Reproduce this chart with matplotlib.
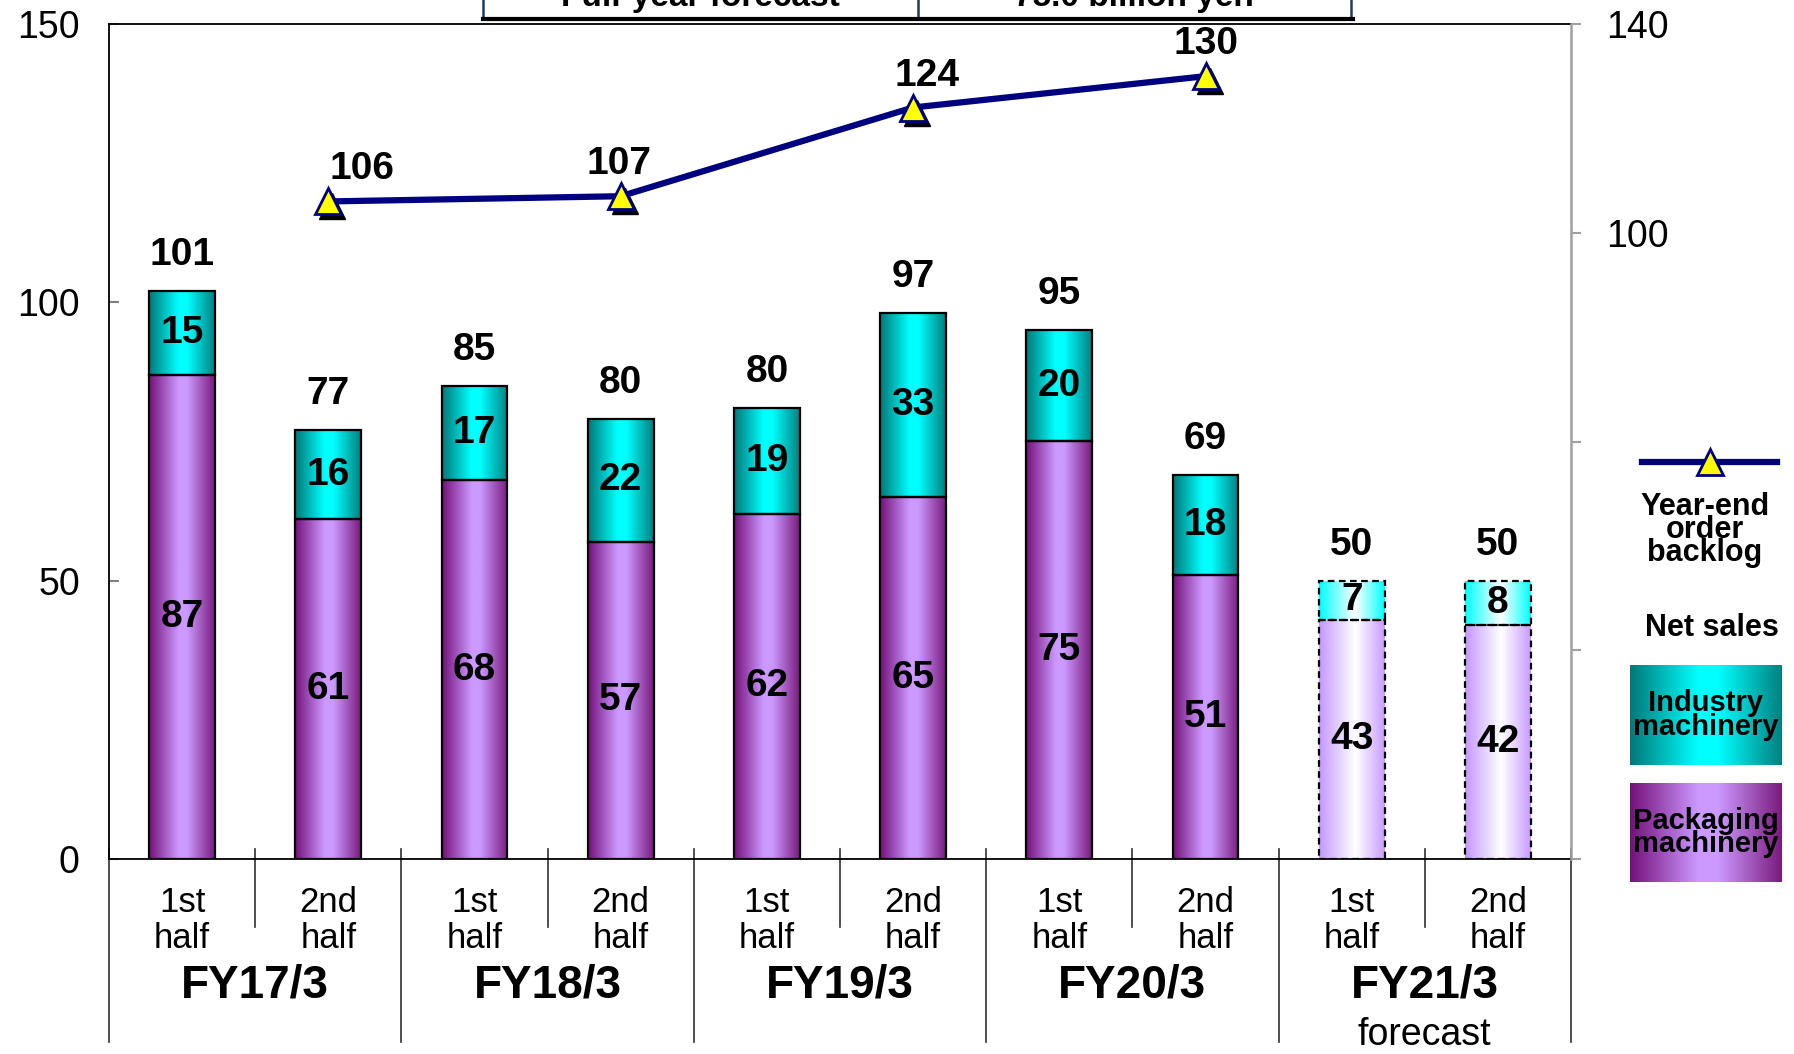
import matplotlib
matplotlib.use('Agg')
import matplotlib.pyplot as plt
import numpy as np
from matplotlib.colors import LinearSegmentedColormap
from matplotlib.lines import Line2D
from matplotlib.patches import Rectangle
from matplotlib.transforms import offset_copy

# data
fiscal_years = ['FY17/3', 'FY18/3', 'FY19/3', 'FY20/3', 'FY21/3']
halves = ['1st\nhalf', '2nd\nhalf']
forecast_fy = 'FY21/3'
packaging = [87, 61, 68, 57, 62, 65, 75, 51, 43, 42]
industry = [15, 16, 17, 22, 19, 33, 20, 18, 7, 8]
totals = [101, 77, 85, 80, 80, 97, 95, 69, 50, 50]
backlog_fy = ['FY17/3', 'FY18/3', 'FY19/3', 'FY20/3']
backlog = [106, 107, 124, 130]

NARROW = ['Liberation Sans Narrow', 'Liberation Sans', 'DejaVu Sans']
plt.rcParams['font.family'] = ['Liberation Sans', 'DejaVu Sans']

W, H = 1794, 1054
fig = plt.figure(figsize=(W / 100, H / 100), dpi=100)
ax = fig.add_axes([109 / W, 1 - 859 / H, (1571 - 109) / W, (859 - 24) / H])

pack_cm = LinearSegmentedColormap.from_list('pk', [(0, '#74107a'), (0.45, '#cc99ff'), (0.58, '#cc99ff'), (1, '#7a1a7e')])
ind_cm = LinearSegmentedColormap.from_list('in', [(0, '#007878'), (0.45, '#00ffff'), (0.58, '#00ffff'), (1, '#008080')])
pack_fc = LinearSegmentedColormap.from_list('pkf', [(0, '#c497ff'), (0.55, '#ffffff'), (1, '#c99cff')])
ind_fc = LinearSegmentedColormap.from_list('inf', [(0, '#00ffff'), (0.55, '#ffffff'), (1, '#00ffff')])


def fill_gradient(axis, patch, cmap):
    x0, y0 = patch.get_x(), patch.get_y()
    w, h = patch.get_width(), patch.get_height()
    grad = np.linspace(0, 1, 256).reshape(1, -1)
    im = axis.imshow(grad, cmap=cmap, extent=(x0, x0 + w, y0, y0 + h), aspect='auto',
                     origin='lower', zorder=2, interpolation='bilinear')
    im.set_clip_path(patch)


bar_fy = [fy for fy in fiscal_years for _ in halves]
x = np.arange(len(bar_fy))
is_fc = [fy == forecast_fy for fy in bar_fy]

pk_bars = ax.bar(x, packaging, width=0.45, facecolor='none', edgecolor='black',
                 linewidth=1.6, zorder=3)
in_bars = ax.bar(x, industry, width=0.45, bottom=packaging, facecolor='none',
                 edgecolor='black', linewidth=1.6, zorder=3)
for i in range(len(x)):
    for b in (pk_bars[i], in_bars[i]):
        b.set_linestyle((0, (3, 2)) if is_fc[i] else '-')
    fill_gradient(ax, pk_bars[i], pack_fc if is_fc[i] else pack_cm)
    fill_gradient(ax, in_bars[i], ind_fc if is_fc[i] else ind_cm)
    ax.text(x[i], packaging[i] / 2, str(packaging[i]), ha='center', va='center',
            fontsize=28, fontweight='bold', zorder=4)
    ax.text(x[i], packaging[i] + industry[i] / 2, str(industry[i]), ha='center',
            va='center', fontsize=28, fontweight='bold', zorder=4)
    ax.annotate(str(totals[i]), (x[i], packaging[i] + industry[i]), xytext=(0, 36),
                textcoords='offset pixels', ha='center', va='center',
                fontsize=28, fontweight='bold')

ax.set_xlim(-0.5, len(x) - 0.5)
ax.set_ylim(0, 150)
ax.set_yticks([0, 50, 100, 150])
ax.set_xticks([])
ax.tick_params(axis='y', direction='in', length=7, width=1.5, color='#808080',
               labelsize=27, pad=21)
for s in ('left', 'top', 'bottom'):
    ax.spines[s].set_linewidth(1.3)
ax.spines['right'].set_visible(False)

# order backlog line on right axis
ax2 = ax.twinx()
bx = [bar_fy.index(fy) + 1 for fy in backlog_fy]
shadow = offset_copy(ax2.transData, fig=fig, x=4, y=-5, units='dots')
ax2.plot(bx, backlog, ls='none', marker='^', ms=19, color='black', transform=shadow, zorder=2)
ax2.plot(bx, backlog, color='#000080', lw=4.5, marker='^', ms=19, mfc='#ffff00',
         mec='#000080', mew=2, zorder=3)
for xi, v, dx in zip(bx, backlog, [34, -2, 14, 0]):
    ax2.annotate(str(v), (xi, v), xytext=(dx, 32), textcoords='offset pixels',
                 ha='center', va='center', fontsize=28, fontweight='bold')
ax2.set_ylim(-20, 140)
ax2.set_yticks([-20, 20, 60, 100, 140])
ax2.set_yticklabels(['', '', '', '100', '140'])
ax2.tick_params(axis='y', direction='out', length=7, width=1.5, color='#a0a0a0',
                labelsize=27, pad=18)
for s in ('left', 'top', 'bottom'):
    ax2.spines[s].set_visible(False)
ax2.spines['right'].set_color('#a0a0a0')
ax2.spines['right'].set_linewidth(1.8)

# category axis below plot
ah = 859 - 24
trans = ax.get_xaxis_transform()
for k in range(len(x) + 1):
    xe = k - 0.5
    bottom = -(1042 - 859) / ah if k % 2 == 0 else -(927 - 859) / ah
    ax.plot([xe, xe], [10 / ah, bottom], color='#303030', lw=1.2, transform=trans,
            clip_on=False, zorder=1)
for i in range(len(x)):
    first, second = halves[i % 2].split('\n')
    ax.annotate(first, (x[i], 0), xycoords=trans, xytext=(0, -43), textcoords='offset pixels',
                ha='center', va='center', fontsize=25, family=NARROW)
    ax.annotate(second, (x[i], 0), xycoords=trans, xytext=(0, -80), textcoords='offset pixels',
                ha='center', va='center', fontsize=25, family=NARROW)
for j, fy in enumerate(fiscal_years):
    xc = 2 * j + 0.5
    ax.annotate(fy, (xc, 0), xycoords=trans, xytext=(0, -127), textcoords='offset pixels',
                ha='center', va='center', fontsize=33, fontweight='bold', family=NARROW)
    if fy == forecast_fy:
        ax.annotate('forecast', (xc, 0), xycoords=trans, xytext=(0, -176),
                    textcoords='offset pixels', ha='center', va='center', fontsize=27,
                    family=NARROW)

# forecast box at top, cut off by the figure edge as in the source
fig.add_artist(Rectangle((483 / W, 1 - 18 / H), (1351 - 483) / W, 60 / H,
                         transform=fig.transFigure, facecolor='white', edgecolor='#1f3864',
                         linewidth=1.8, zorder=5))
fig.add_artist(Line2D([918 / W, 918 / W], [1 - 18 / H, 1.0], transform=fig.transFigure,
                      color='#1f3864', lw=1.8, zorder=6))
fig.add_artist(Line2D([483 / W, 1353 / W], [1 - 19 / H, 1 - 19 / H], transform=fig.transFigure,
                      color='black', lw=3, zorder=6))
fig.text(700 / W, 1 - 6 / H, 'Full-year forecast', ha='center', va='baseline',
         fontsize=24, fontweight='bold', zorder=7)
fig.text(1134 / W, 1 - 6 / H, '75.0 billion yen', ha='center', va='baseline',
         fontsize=24, fontweight='bold', zorder=7)

# legend
fig.add_artist(Line2D([1642 / W, 1777 / W], [1 - 462 / H] * 2, transform=fig.transFigure,
                      color='#000080', lw=4.5))
fig.add_artist(Line2D([1710 / W], [1 - 462 / H], transform=fig.transFigure, marker='^',
                      ms=19, mfc='#ffff00', mec='#000080', mew=2, ls='none'))
fig.text(1705 / W, 1 - 530 / H, 'Year-end\norder\nbacklog', ha='center', va='center',
         fontsize=22, fontweight='bold', family=NARROW, linespacing=0.7)
fig.text(1712 / W, 1 - 628 / H, 'Net sales', ha='center', va='center',
         fontsize=22, fontweight='bold', family=NARROW)
for (top, bot), cmap, label in [((665, 765), ind_cm, 'Industry\nmachinery'),
                                ((783, 882), pack_cm, 'Packaging\nmachinery')]:
    lax = fig.add_axes([1630 / W, 1 - bot / H, (1782 - 1630) / W, (bot - top) / H])
    lax.imshow(np.linspace(0, 1, 256).reshape(1, -1), cmap=cmap, aspect='auto',
               extent=(0, 1, 0, 1), interpolation='bilinear')
    lax.axis('off')
    lax.text(0.5, 0.5, label, ha='center', va='center', fontsize=21, fontweight='bold',
             family=NARROW, linespacing=0.8, transform=lax.transAxes)

fig.savefig('out.png', dpi=100)
